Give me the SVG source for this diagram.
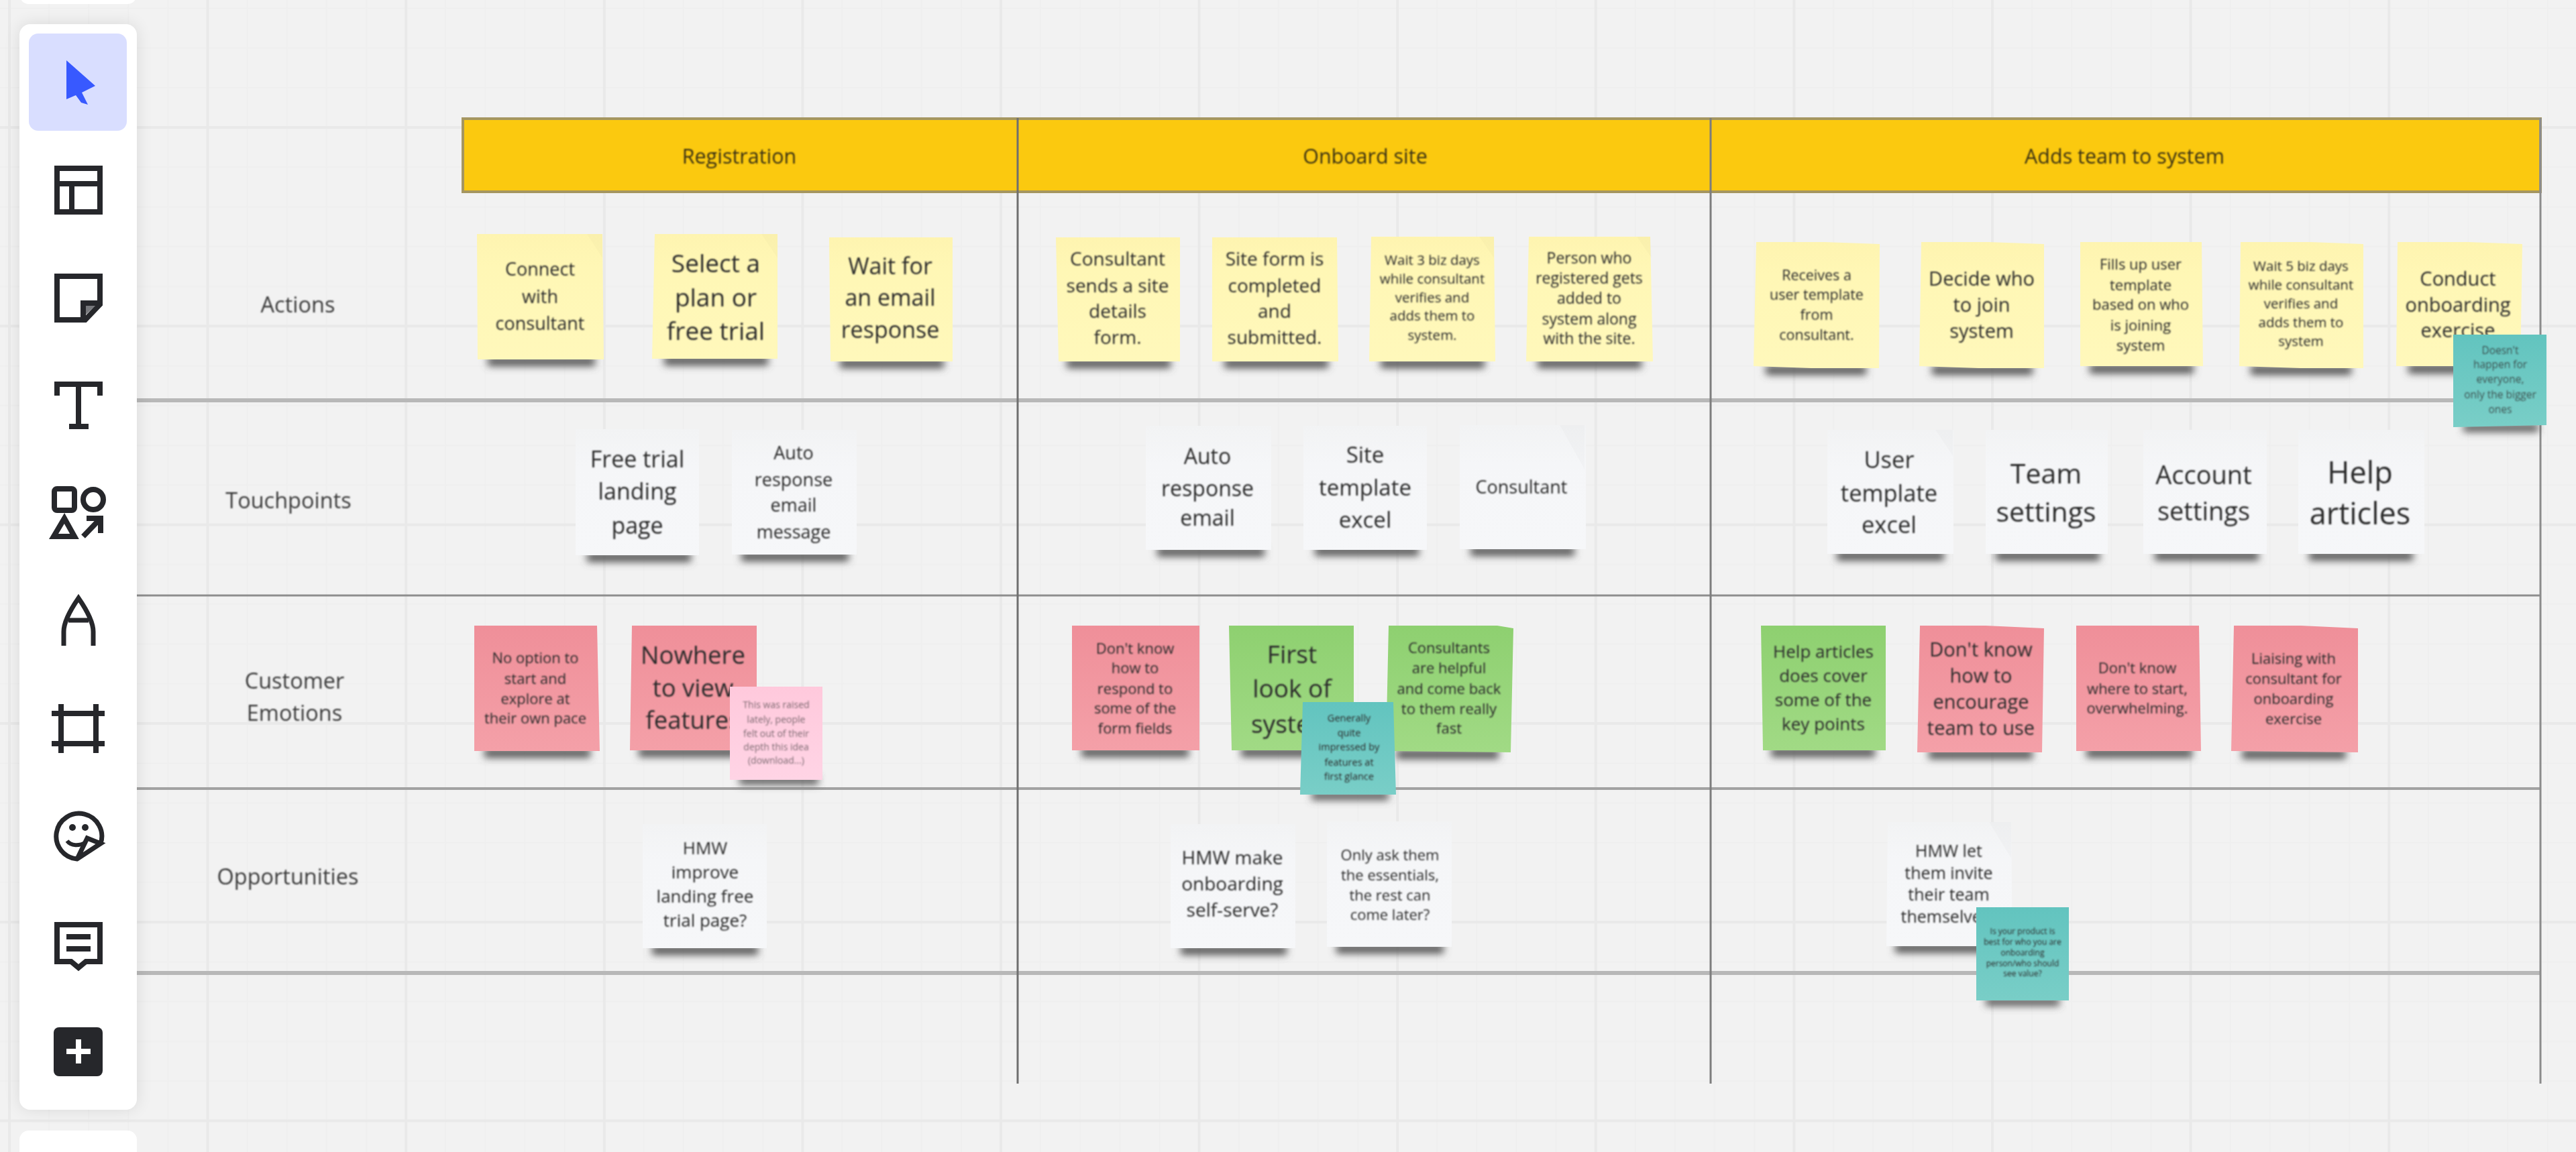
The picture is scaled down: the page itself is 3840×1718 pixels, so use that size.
<svg xmlns="http://www.w3.org/2000/svg" width="3840" height="1718" viewBox="0 0 3840 1718">
<style>
text{font-family:"Open Sans","Noto Sans","Liberation Sans",sans-serif;text-anchor:middle;dominant-baseline:central;fill:#2c2c2c;filter:url(#soft)}
.lab{fill:#3a3a3a;font-size:32.5px}
.hd{fill:#3b3212;font-size:30.5px}
.y{fill:url(#gy)}.r{fill:url(#gr)}.g{fill:url(#gg)}.w{fill:url(#gw)}.t{fill:url(#gt)}.p{fill:url(#gp)}
.sh{fill:#555555;filter:url(#shb)}
.ic{fill:none;stroke:#26272b;stroke-width:8}
.fold{fill:#000;opacity:.015}
</style>
<defs>
<pattern id="grid" patternUnits="userSpaceOnUse" x="11" y="187" width="295.6" height="296.3">
<path d="M62 0V296.3M121.1 0V296.3M180.2 0V296.3M239.4 0V296.3M0 62.3H295.6M0 121.5H295.6M0 180.8H295.6M0 240H295.6" stroke="#efefef" stroke-width="2" fill="none"/>
<path d="M3 0V296.3M0 3H295.6" stroke="#e9e9e9" stroke-width="4" fill="none"/>
</pattern>
<linearGradient id="gy" x1="0" y1="0" x2="0" y2="1"><stop offset="0" stop-color="#fef4b0"/><stop offset=".25" stop-color="#fff7b5"/><stop offset="1" stop-color="#fff8bb"/></linearGradient>
<linearGradient id="gr" x1="0" y1="0" x2="0" y2="1"><stop offset="0" stop-color="#ef8f99"/><stop offset="1" stop-color="#f4a0a8"/></linearGradient>
<linearGradient id="gg" x1="0" y1="0" x2="0" y2="1"><stop offset="0" stop-color="#8ed070"/><stop offset="1" stop-color="#a1da85"/></linearGradient>
<linearGradient id="gw" x1="0" y1="0" x2="0" y2="1"><stop offset="0" stop-color="#f2f3f4"/><stop offset=".3" stop-color="#f5f6f8"/><stop offset="1" stop-color="#f6f7f9"/></linearGradient>
<linearGradient id="gt" x1="0" y1="0" x2="0" y2="1"><stop offset="0" stop-color="#62c4bf"/><stop offset="1" stop-color="#79cec7"/></linearGradient>
<linearGradient id="gp" x1="0" y1="0" x2="0" y2="1"><stop offset="0" stop-color="#ffc9dc"/><stop offset="1" stop-color="#ffd4e5"/></linearGradient>
<filter id="soft" x="-10%" y="-30%" width="120%" height="160%"><feGaussianBlur stdDeviation="1.1"/></filter>
<filter id="shb" x="-10%" y="-150%" width="120%" height="500%"><feGaussianBlur stdDeviation="6"/></filter>
<filter id="pan" x="-20%" y="-5%" width="140%" height="110%"><feGaussianBlur stdDeviation="12"/></filter>
</defs>

<rect id="board" width="3840" height="1718" fill="#f2f2f2"/>
<rect id="board-grid" width="3840" height="1718" fill="url(#grid)"/>

<g id="header-band">
<rect x="690" y="177" width="3097" height="109" fill="#fbc90f" stroke="#a59660" stroke-width="4"/>
</g>

<g id="connectors" fill="none">
<path d="M204 597H3787" stroke="#b8b8b8" stroke-width="6"/>
<path d="M204 888H3787" stroke="#8e8e8e" stroke-width="3"/>
<path d="M204 1176H3787" stroke="#a2a2a2" stroke-width="4"/>
<path d="M204 1451H3787" stroke="#b8b8b8" stroke-width="6"/>
<path d="M1517 176V1616" stroke="#6f6f6f" stroke-width="3"/>
<path d="M2550 176V1616" stroke="#7d7d7d" stroke-width="3"/>
<path d="M3787 176V1616" stroke="#8c8c8c" stroke-width="3"/>
</g>

<g id="headers">
<text class="hd" x="1102" y="232">Registration</text>
<text class="hd" x="2035" y="232">Onboard site</text>
<text class="hd" x="3167" y="232">Adds team to system</text>
</g>

<g id="row-labels">
<text class="lab" x="444" y="453">Actions</text>
<text class="lab" x="430" y="745">Touchpoints</text>
<text class="lab" x="439" y="1014">Customer</text>
<text class="lab" x="439" y="1062">Emotions</text>
<text class="lab" x="429" y="1306">Opportunities</text>
</g>

<g id="note-connect"><rect class="sh" x="727" y="532" width="160" height="14"/><polygon class="y" points="711,349 898,349 900,536 712,536"/><polygon class="fold" points="875,349 898,349 898,385"/><g font-size="27"><text x="805" y="400">Connect</text><text x="805" y="441">with</text><text x="805" y="481">consultant</text></g></g>
<g id="note-select"><rect class="sh" x="990" y="531" width="155" height="14"/><polygon class="y" points="976,349 1159,349 1159,535 972,535"/><polygon class="fold" points="1135,349 1159,349 1159,385"/><g font-size="37"><text x="1067" y="391">Select a</text><text x="1067" y="442">plan or</text><text x="1067" y="492">free trial</text></g></g>
<g id="note-wait"><rect class="sh" x="1252" y="535" width="155" height="14"/><polygon class="y" points="1236,354 1420,354 1420,539 1238,539"/><g font-size="34"><text x="1327" y="396">Wait for</text><text x="1327" y="443">an email</text><text x="1327" y="491">response</text></g></g>
<g id="note-consultant-sends"><rect class="sh" x="1590" y="535" width="155" height="14"/><polygon class="y" points="1574,354 1759,354 1759,539 1578,539"/><g font-size="28"><text x="1666" y="385">Consultant</text><text x="1666" y="425">sends a site</text><text x="1666" y="463">details</text><text x="1666" y="502">form.</text></g></g>
<g id="note-site-form"><rect class="sh" x="1825" y="535" width="155" height="14"/><polygon class="y" points="1807,354 1993,354 1995,539 1807,539"/><g font-size="28"><text x="1900" y="385">Site form is</text><text x="1900" y="425">completed</text><text x="1900" y="463">and</text><text x="1900" y="502">submitted.</text></g></g>
<g id="note-wait-3"><rect class="sh" x="2058" y="535" width="155" height="14"/><polygon class="y" points="2044,353 2227,353 2229,539 2041,539"/><polygon class="fold" points="2205,353 2227,353 2227,385"/><g font-size="20.5"><text x="2135" y="387">Wait 3 biz days</text><text x="2135" y="415">while consultant</text><text x="2135" y="443">verifies and</text><text x="2135" y="470">adds them to</text><text x="2135" y="499">system.</text></g></g>
<g id="note-person"><rect class="sh" x="2292" y="535" width="155" height="14"/><polygon class="y" points="2279,353 2460,353 2464,539 2275,539"/><polygon class="fold" points="2440,353 2460,353 2462,385"/><g font-size="23"><text x="2369" y="384">Person who</text><text x="2369" y="414">registered gets</text><text x="2369" y="444">added to</text><text x="2369" y="475">system along</text><text x="2369" y="504">with the site.</text></g></g>

<g id="note-receives"><rect class="sh" x="2632" y="545" width="150" height="14"/><polygon class="y" points="2618,361 2720,361 2802,364 2801,549 2700,549 2614,546"/><g font-size="21.5"><text x="2708" y="409">Receives a</text><text x="2708" y="438">user template</text><text x="2708" y="468">from</text><text x="2708" y="498">consultant.</text></g></g>
<g id="note-decide"><rect class="sh" x="2880" y="545" width="150" height="14"/><polygon class="y" points="2864,361 2965,361 3047,364 3047,549 2950,549 2861,546"/><g font-size="29"><text x="2954" y="414">Decide who</text><text x="2954" y="453">to join</text><text x="2954" y="492">system</text></g></g>
<g id="note-fills"><rect class="sh" x="3115" y="543" width="155" height="14"/><polygon class="y" points="3101,361 3282,361 3284,546 3101,546"/><g font-size="22"><text x="3191" y="393">Fills up user</text><text x="3191" y="424">template</text><text x="3191" y="453">based on who</text><text x="3191" y="484">is joining</text><text x="3191" y="514">system</text></g></g>
<g id="note-wait-5"><rect class="sh" x="3355" y="545" width="150" height="14"/><polygon class="y" points="3340,361 3445,361 3523,364 3523,549 3430,549 3338,546"/><g font-size="20.5"><text x="3430" y="396">Wait 5 biz days</text><text x="3430" y="424">while consultant</text><text x="3430" y="452">verifies and</text><text x="3430" y="480">adds them to</text><text x="3430" y="508">system</text></g></g>
<g id="note-conduct"><rect class="sh" x="3590" y="543" width="155" height="14"/><polygon class="y" points="3574,361 3680,361 3760,364 3757,546 3572,546"/><g font-size="29"><text x="3664" y="414">Conduct</text><text x="3664" y="453">onboarding</text><text x="3664" y="491">exercise</text></g></g>

<g id="note-free-trial"><rect class="sh" x="875" y="824" width="155" height="14"/><rect class="w" x="858" y="640" width="184" height="188"/><g font-size="34"><text x="950" y="684">Free trial</text><text x="950" y="732">landing</text><text x="950" y="783">page</text></g></g>
<g id="note-auto-message"><rect class="sh" x="1105" y="823" width="160" height="14"/><rect class="w" x="1091" y="641" width="186" height="186"/><g font-size="27"><text x="1183" y="674">Auto</text><text x="1183" y="714">response</text><text x="1183" y="752">email</text><text x="1183" y="792">message</text></g></g>
<g id="note-auto-email"><rect class="sh" x="1725" y="816" width="160" height="14"/><rect class="w" x="1708" y="635" width="187" height="185"/><g font-size="32"><text x="1800" y="679">Auto</text><text x="1800" y="727">response</text><text x="1800" y="771">email</text></g></g>
<g id="note-site-template"><rect class="sh" x="1960" y="815" width="155" height="14"/><rect class="w" x="1943" y="635" width="184" height="185"/><g font-size="33"><text x="2035" y="677">Site</text><text x="2035" y="726">template</text><text x="2035" y="774">excel</text></g></g>
<g id="note-consultant"><rect class="sh" x="2192" y="815" width="155" height="14"/><rect class="w" x="2176" y="634" width="188" height="185"/><polygon class="fold" points="2325,634 2362,634 2362,700"/><text x="2268" y="725" font-size="27">Consultant</text></g>
<g id="note-user-template"><rect class="sh" x="2738" y="822" width="160" height="14"/><rect class="w" x="2724" y="641" width="188" height="185"/><polygon class="fold" points="2885,641 2911,641 2911,680"/><g font-size="34.5"><text x="2816" y="684">User</text><text x="2816" y="734">template</text><text x="2816" y="781">excel</text></g></g>
<g id="note-team-settings"><rect class="sh" x="2975" y="822" width="155" height="14"/><rect class="w" x="2960" y="641" width="182" height="185"/><g font-size="41"><text x="3050" y="705">Team</text><text x="3050" y="762">settings</text></g></g>
<g id="note-account-settings"><rect class="sh" x="3212" y="822" width="155" height="14"/><rect class="w" x="3195" y="641" width="184" height="185"/><g font-size="38"><text x="3285" y="707">Account</text><text x="3285" y="761">settings</text></g></g>
<g id="note-help-articles"><rect class="sh" x="3442" y="822" width="155" height="14"/><rect class="w" x="3426" y="641" width="188" height="185"/><g font-size="45"><text x="3518" y="703">Help</text><text x="3518" y="764">articles</text></g></g>

<g id="note-no-option"><rect class="sh" x="722" y="1116" width="158" height="14"/><polygon class="r" points="707,933 890,933 894,1120 707,1120"/><g font-size="22"><text x="798" y="980">No option to</text><text x="798" y="1011">start and</text><text x="798" y="1041">explore at</text><text x="798" y="1070">their own pace</text></g></g>
<g id="note-nowhere"><rect class="sh" x="952" y="1115" width="160" height="14"/><polygon class="r" points="942,933 1128,933 1128,1119 939,1119"/><g font-size="36.5"><text x="1033" y="976">Nowhere</text><text x="1033" y="1025">to view</text><text x="1033" y="1073">features</text></g></g>
<g id="note-raised"><rect class="sh" x="1102" y="1158" width="118" height="12"/><rect class="p" x="1088" y="1024" width="138" height="139"/><g font-size="14" fill-opacity=".6"><text x="1157" y="1050">This was raised</text><text x="1157" y="1072">lately, people</text><text x="1157" y="1093">felt out of their</text><text x="1157" y="1113">depth this idea</text><text x="1157" y="1133">(download...)</text></g></g>
<g id="note-dont-know-form"><rect class="sh" x="1612" y="1115" width="160" height="14"/><rect class="r" x="1598" y="933" width="190" height="186"/><g font-size="22"><text x="1692" y="966">Don't know</text><text x="1692" y="995">how to</text><text x="1692" y="1026">respond to</text><text x="1692" y="1055">some of the</text><text x="1692" y="1085">form fields</text></g></g>
<g id="note-first-look"><rect class="sh" x="1850" y="1115" width="155" height="14"/><polygon class="g" points="1832,933 2018,933 2018,1119 1836,1119"/><g font-size="37"><text x="1926" y="974">First</text><text x="1926" y="1025">look of</text><text x="1926" y="1078">system</text></g></g>
<g id="note-consultants-helpful"><rect class="sh" x="2082" y="1118" width="152" height="14"/><polygon class="g" points="2070,933 2232,933 2256,937 2252,1122 2066,1120"/><g font-size="22"><text x="2160" y="965">Consultants</text><text x="2160" y="995">are helpful</text><text x="2160" y="1026">and come back</text><text x="2160" y="1056">to them really</text><text x="2160" y="1085">fast</text></g></g>
<g id="note-generally"><rect class="sh" x="1955" y="1181" width="115" height="12"/><polygon class="t" points="1942,1047 2077,1047 2081,1185 1938,1185"/><g font-size="14.5"><text x="2011" y="1070">Generally</text><text x="2011" y="1092">quite</text><text x="2011" y="1113">impressed by</text><text x="2011" y="1136">features at</text><text x="2011" y="1157">first glance</text></g></g>
<g id="note-help-cover"><rect class="sh" x="2640" y="1115" width="155" height="14"/><polygon class="g" points="2625,933 2811,933 2811,1119 2628,1119"/><g font-size="26"><text x="2718" y="971">Help articles</text><text x="2718" y="1007">does cover</text><text x="2718" y="1043">some of the</text><text x="2718" y="1079">key points</text></g></g>
<g id="note-dont-know-team"><rect class="sh" x="2875" y="1118" width="155" height="14"/><polygon class="r" points="2862,933 2960,933 3047,937 3044,1122 2858,1122"/><g font-size="29"><text x="2953" y="967">Don't know</text><text x="2953" y="1006">how to</text><text x="2953" y="1045">encourage</text><text x="2953" y="1084">team to use</text></g></g>
<g id="note-where-start"><rect class="sh" x="3110" y="1116" width="158" height="14"/><polygon class="r" points="3095,933 3278,933 3281,1120 3095,1120"/><g font-size="22"><text x="3186" y="995">Don't know</text><text x="3186" y="1026">where to start,</text><text x="3186" y="1055">overwhelming.</text></g></g>
<g id="note-liaising"><rect class="sh" x="3342" y="1118" width="155" height="14"/><polygon class="r" points="3330,933 3430,933 3515,937 3515,1122 3326,1120"/><g font-size="22"><text x="3419" y="981">Liaising with</text><text x="3419" y="1011">consultant for</text><text x="3419" y="1041">onboarding</text><text x="3419" y="1071">exercise</text></g></g>

<g id="note-hmw-landing"><rect class="sh" x="972" y="1410" width="158" height="14"/><rect class="w" x="958" y="1229" width="185" height="185"/><g font-size="26"><text x="1051" y="1264">HMW</text><text x="1051" y="1300">improve</text><text x="1051" y="1336">landing free</text><text x="1051" y="1372">trial page?</text></g></g>
<g id="note-hmw-self-serve"><rect class="sh" x="1760" y="1410" width="158" height="14"/><rect class="w" x="1745" y="1229" width="186" height="185"/><g font-size="28"><text x="1837" y="1278">HMW make</text><text x="1837" y="1317">onboarding</text><text x="1837" y="1356">self-serve?</text></g></g>
<g id="note-only-ask"><rect class="sh" x="1992" y="1408" width="160" height="14"/><rect class="w" x="1978" y="1225" width="186" height="187"/><g font-size="22"><text x="2072" y="1274">Only ask them</text><text x="2072" y="1304">the essentials,</text><text x="2072" y="1334">the rest can</text><text x="2072" y="1363">come later?</text></g></g>
<g id="note-hmw-invite"><rect class="sh" x="2825" y="1407" width="160" height="14"/><polygon class="w" points="2814,1226 2998,1226 3000,1411 2812,1411"/><polygon class="fold" points="2965,1226 2998,1226 2998,1280"/><g font-size="25"><text x="2905" y="1268">HMW let</text><text x="2905" y="1301">them invite</text><text x="2905" y="1333">their team</text><text x="2905" y="1366">themselves?</text></g></g>
<g id="note-is-your-product"><rect class="sh" x="2960" y="1488" width="110" height="12"/><rect class="t" x="2946" y="1353" width="138" height="139"/><g font-size="12"><text x="3015" y="1388">Is your product is</text><text x="3015" y="1404">best for who you are</text><text x="3015" y="1420">onboarding</text><text x="3015" y="1436">person/who should</text><text x="3015" y="1451">see value?</text></g></g>
<g id="note-doesnt-happen"><rect class="sh" x="3672" y="632" width="112" height="12"/><polygon class="t" points="3657,499 3796,499 3796,634 3657,637"/><g font-size="15.5" fill-opacity=".75"><text x="3727" y="522">Doesn't</text><text x="3727" y="543">happen for</text><text x="3727" y="565">everyone,</text><text x="3727" y="588">only the bigger</text><text x="3727" y="610">ones</text></g></g>

<g id="toolbar">
<rect x="29" y="36" width="175" height="1619" rx="16" fill="#000" opacity=".1" filter="url(#pan)"/>
<rect x="29" y="-40" width="175" height="46" rx="14" fill="#ffffff"/>
<rect x="29" y="36" width="175" height="1619" rx="16" fill="#ffffff"/>
<rect x="29" y="1686" width="175" height="60" rx="14" fill="#ffffff"/>
<rect x="43" y="50" width="146" height="145" rx="14" fill="#d9deff"/>
<polygon points="99,90 142,128 122,138 131,156 121,153 113,142 99,148" fill="#3859ff"/>
<g class="ic">
<path d="M85 251H149V316H85ZM85 274H149M107 274V316"/>
<path d="M85 412H149V454L127 477H85Z"/>
<path d="M124 473V452H146" fill="#77787c"/>
<path d="M85 590V573H149V590M117 573V636M103 636H132"/>
<rect x="81" y="729" width="30" height="32" rx="4"/><circle cx="139" cy="745" r="15"/>
<path d="M80 800L96 773L111 800ZM124 800L150 773M129 773H150V795"/>
<path d="M95 963V942C95 925 108 905 117 892C126 905 139 925 139 942V963M102 925H132" stroke-width="7"/>
<path d="M91 1050V1123M143 1050V1123M77 1064H156M77 1109H156"/>
<path d="M150 1258A34 34 0 1 0 115 1281L150 1258L130 1250L115 1281" stroke-width="7"/>
<path d="M100 1254C106 1262 118 1262 128 1256" stroke-width="6"/>
<path d="M85 1379H149V1434H128L117 1443L106 1434H85ZM99 1397H135M99 1415H135"/>
</g>
<circle cx="108" cy="1234" r="5" fill="#26272b"/><circle cx="127" cy="1234" r="5" fill="#26272b"/>
<rect x="80" y="1532" width="73" height="73" rx="8" fill="#26272b"/>
<path d="M117 1550V1586M99 1568H135" stroke="#ffffff" stroke-width="8" fill="none"/>
</g>
</svg>
